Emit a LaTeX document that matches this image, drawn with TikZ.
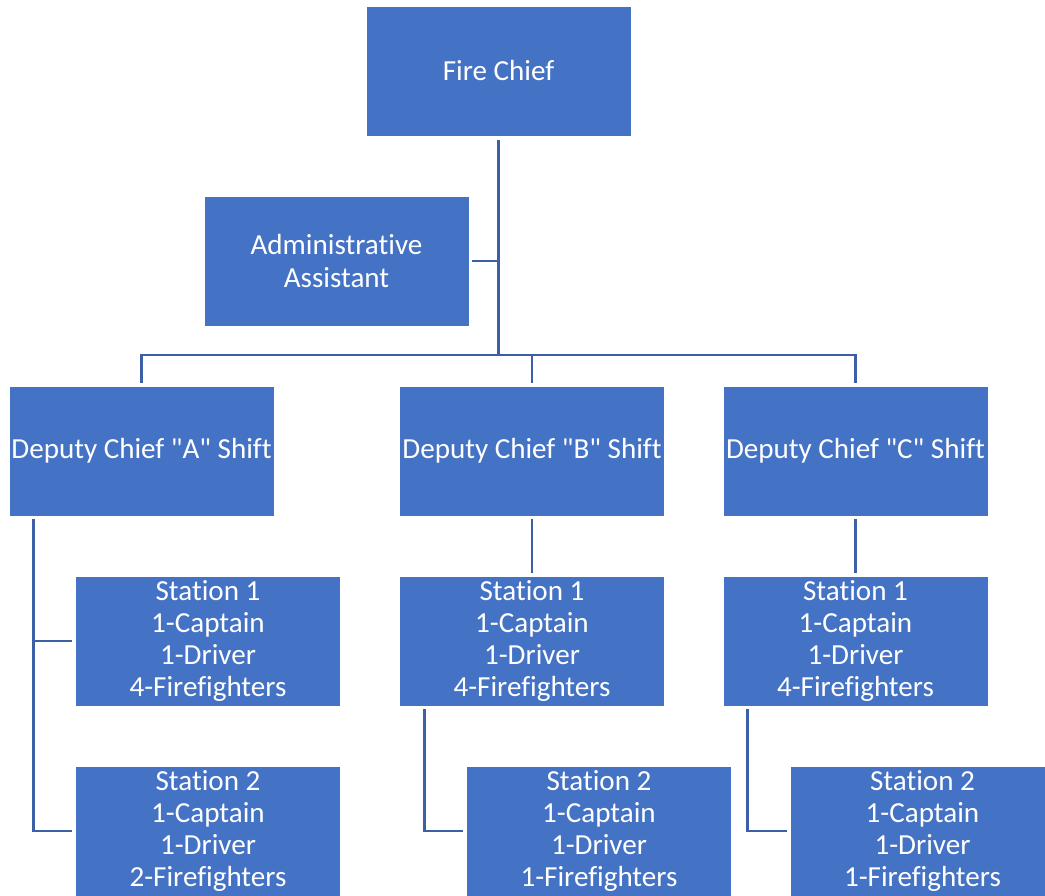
\documentclass[tikz,border=0pt]{standalone}
\usepackage{fontspec}
\setmainfont{Carlito}[Ligatures={TeXOff,CommonOff}]
\usepackage{tikz}
\usetikzlibrary{positioning}
\definecolor{boxblue}{HTML}{4472C4}
\definecolor{wireblue}{HTML}{3C5FA6}

\begin{document}
\begin{tikzpicture}
      \tikzset{every node/.style={font=\fontsize{29.2}{32.4}\selectfont, text=white},
        post/.style={fill=boxblue, draw=white, line width=0.6bp, inner sep=0pt,
          minimum width=265bp, minimum height=130bp, align=center},
        wire/.style={draw=wireblue, line width=2.6bp}}
      \useasboundingbox (0bp,0bp) rectangle (1045bp,896bp);
      %%
  \node (chief) at (498.5bp,825bp) [post] {Fire Chief};
  \node (admin) at (336.5bp,635bp) [post] {Administrative\\Assistant};
  \node (depA) at (141.5bp,445bp) [post] {Deputy Chief "A" Shift};
  \node (depB) at (532bp,445bp) [post] {Deputy Chief "B" Shift};
  \node (depC) at (855.5bp,445bp) [post] {Deputy Chief "C" Shift};
  \node (stA1) at (208bp,255bp) [post] {Station 1\\1-Captain\\1-Driver\\4-Firefighters};
  \node (stA2) at (208bp,65bp) [post] {Station 2\\1-Captain\\1-Driver\\2-Firefighters};
  \node (stB1) at (532bp,255bp) [post] {Station 1\\1-Captain\\1-Driver\\4-Firefighters};
  \node (stB2) at (599bp,65bp) [post] {Station 2\\1-Captain\\1-Driver\\1-Firefighters};
  \node (stC1) at (855.5bp,255bp) [post] {Station 1\\1-Captain\\1-Driver\\4-Firefighters};
  \node (stC2) at (922.5bp,65bp) [post] {Station 2\\1-Captain\\1-Driver\\1-Firefighters};
  \coordinate (bus) at (498.5bp,541bp);
  \draw [wire] ([yshift=-4bp]chief.south) -- (bus);
  \draw [wire] ([xshift=3bp]admin.east) -- (admin.east -| bus);
  \draw [wire] ([yshift=3bp]depA.north) |- (bus) -| ([yshift=3bp]depC.north);
  \draw [wire] ([yshift=3bp]depB.north) -- (depB.north |- bus);
  \draw [wire] ([xshift=25bp,yshift=-3bp]depA.south west) coordinate (tA) |- ([xshift=-3bp]stA2.west);
  \draw [wire] ([xshift=-3bp]stA1.west) -- (stA1.west -| tA);
  \draw [wire] ([yshift=-3bp]depB.south) -- ([yshift=3bp]stB1.north);
  \draw [wire] ([xshift=25bp,yshift=-3bp]stB1.south west) |- ([xshift=-3bp]stB2.west);
  \draw [wire] ([yshift=-3bp]depC.south) -- ([yshift=3bp]stC1.north);
  \draw [wire] ([xshift=25bp,yshift=-3bp]stC1.south west) |- ([xshift=-3bp]stC2.west);
%
    \end{tikzpicture}
\end{document}
